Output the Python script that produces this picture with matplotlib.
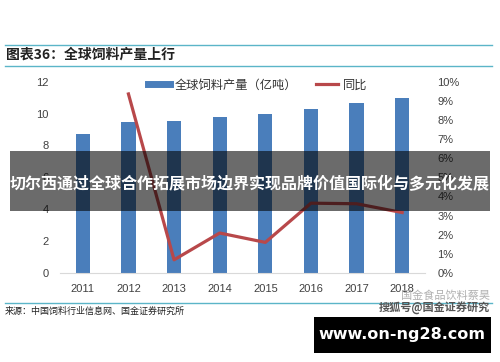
import matplotlib
matplotlib.use("Agg")
import matplotlib.pyplot as plt
from matplotlib.patches import Rectangle
from matplotlib.lines import Line2D
from matplotlib.ticker import FuncFormatter

plt.rcParams['font.family'] = ['Liberation Sans', 'Noto Sans CJK SC', 'DejaVu Sans']

# data
years = ['2011', '2012', '2013', '2014', '2015', '2016', '2017', '2018']
feed_output = [8.7, 9.5, 9.55, 9.76, 9.97, 10.28, 10.66, 10.97]   # 亿吨
yoy_years = ['2012', '2013', '2014', '2015', '2016', '2017', '2018']
yoy_pct = [9.36, 0.69, 2.09, 1.6, 3.65, 3.62, 3.16]

title = '图表36：全球饲料产量上行'
source = '来源：中国饲料行业信息网、国金证券研究所'
banner = '切尔西通过全球合作拓展市场边界实现品牌价值国际化与多元化发展'
bar_label = '全球饲料产量（亿吨）'
line_label = '同比'

W, H = 500, 362
fig = plt.figure(figsize=(5, 3.62), dpi=100)

def fx(px):
    return px / W

def fy(py):
    return 1 - py / H

ax = fig.add_axes([fx(60), fy(273), fx(425) - fx(60), fy(81.7) - fy(273)])
bar_col = '#4a7ebb'
line_col = '#b8484a'
tick_col = '#404040'

xpos = list(range(len(years)))
ax.bar(xpos, feed_output, width=0.31, color=bar_col, zorder=2)
ax.set_xlim(-0.5, len(years) - 0.5)
ax.set_ylim(0, 12)
ax.set_yticks(range(0, 13, 2))
ax.set_xticks(xpos)
ax.set_xticklabels(years)
for s in ['top', 'right', 'left']:
    ax.spines[s].set_visible(False)
ax.spines['bottom'].set_color('#d9d9d9')
ax.tick_params(axis='both', length=0, labelsize=8, colors=tick_col)
ax.tick_params(axis='y', pad=8)
ax.tick_params(axis='x', pad=8)

ax2 = ax.twinx()
ax2.plot([years.index(y) for y in yoy_years], yoy_pct, color=line_col, lw=2.3, zorder=3)
ax2.set_ylim(0, 10)
ax2.set_yticks(range(0, 11))
ax2.yaxis.set_major_formatter(FuncFormatter(lambda v, p: '%d%%' % v))
for s in ['top', 'right', 'left', 'bottom']:
    ax2.spines[s].set_visible(False)
ax2.tick_params(axis='y', length=0, labelsize=8, colors=tick_col, pad=9)

# legend
handles = [Line2D([0], [0], color=bar_col, lw=5),
           Line2D([0], [0], color=line_col, lw=2.3)]
fig.legend(handles, [bar_label, line_label], loc='center left',
           bbox_to_anchor=(fx(137), fy(85)), ncol=2, frameon=False,
           prop={'family': ['Noto Sans CJK SC'], 'size': 8.8},
           handlelength=1.8, handletextpad=0.35, columnspacing=1.6,
           labelcolor='#333333')

# header / footer
cyan = '#5bb5c8'
for py in (45, 66, 303):
    fig.add_artist(Line2D([fx(5), fx(492)], [fy(py), fy(py)], color=cyan, lw=1))
fig.text(fx(6), fy(55), title, fontsize=10, fontweight='bold', style='italic',
         family=['Noto Sans CJK SC', 'DejaVu Sans'], va='center', color='#222222')
fig.text(fx(5), fy(311), source, fontsize=6.5,
         family=['Noto Sans CJK SC', 'DejaVu Sans'], va='center', color='#222222')

# watermark
fig.text(fx(490), fy(296), '国金食品饮料蔡昊', fontsize=8, color='#b0b0b0',
         family=['Noto Sans CJK SC'], ha='right', va='center')
fig.text(fx(490), fy(308), '搜狐号@国金证券研究', fontsize=8, color='#555555',
         family=['Noto Sans CJK SC'], ha='right', va='center', fontweight='bold')

# overlay banner
fig.add_artist(Rectangle((fx(10), fy(211)), fx(490) - fx(10), fy(151) - fy(211),
                         transform=fig.transFigure, color='black', alpha=0.58,
                         lw=0, zorder=10))
fig.text(0.5, fy(184), banner, fontsize=11.5, fontweight='bold', color='white',
         family=['Noto Sans CJK SC'], ha='center', va='center', zorder=11)

fig.add_artist(Rectangle((fx(314), fy(353)), fx(491) - fx(314), fy(317) - fy(353),
                         transform=fig.transFigure, color='black', lw=0, zorder=10))
fig.text(fx(402), fy(335), 'www.on-ng28.com', fontsize=11.5, fontweight='bold',
         color='white', family=['DejaVu Sans'], ha='center', va='center', zorder=11)

fig.savefig('out.png', dpi=100)
